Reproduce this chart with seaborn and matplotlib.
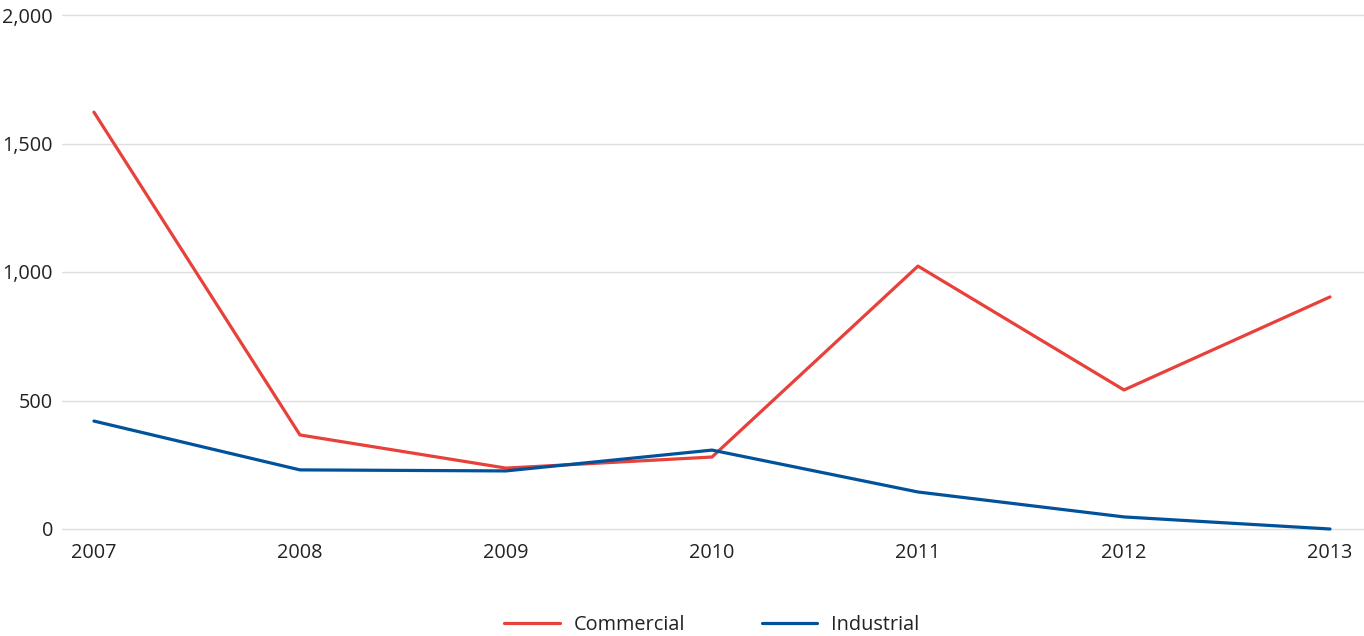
import matplotlib
matplotlib.use("Agg")
import matplotlib.pyplot as plt
import seaborn as sns
import pandas as pd
from matplotlib.ticker import FuncFormatter
from matplotlib.lines import Line2D

years = ["2007", "2008", "2009", "2010", "2011", "2012", "2013"]
commercial = [1622, 366, 237, 280, 1023, 541, 903]
industrial = [420, 230, 226, 307, 144, 47, 0]
series_names = ["Commercial", "Industrial"]
colors = ["#E8403A", "#00529B"]

df = pd.DataFrame({
    "year": years * 2,
    "value": commercial + industrial,
    "series": [series_names[0]] * len(years) + [series_names[1]] * len(years),
})
df["x"] = list(range(len(years))) * 2

sns.set_theme(style="white")
plt.rcParams["font.family"] = ["Open Sans", "DejaVu Sans"]

fig = plt.figure(figsize=(13.64, 6.36), dpi=100)
ax = fig.add_axes([62 / 1364, 1 - 529 / 636, 1 - 62 / 1364, (529 - 15) / 636])

sns.lineplot(data=df, x="x", y="value", hue="series", palette=colors,
             linewidth=2.3, ax=ax, legend=False)
for ln in ax.get_lines():
    ln.set_clip_on(False)

ax.set_xlim(-0.155, 6.165)
ax.set_ylim(0, 2000)
ax.set_yticks([0, 500, 1000, 1500, 2000])
ax.yaxis.set_major_formatter(FuncFormatter(lambda v, p: f"{int(v):,}"))
ax.set_xticks(range(len(years)))
ax.set_xticklabels(years)
ax.grid(axis="y", color="#DDDDDD", linewidth=1)
for gl in ax.get_ygridlines():
    gl.set_clip_on(False)
ax.set_axisbelow(True)
for s in ax.spines.values():
    s.set_visible(False)
ax.set_xlabel("")
ax.set_ylabel("")
ax.tick_params(axis="both", length=0, labelsize=14.3, colors="#222222")
ax.tick_params(axis="y", pad=6.5)
ax.tick_params(axis="x", pad=10)

handles = [Line2D([0], [0], color=c, linewidth=2.3) for c in colors]
fig.legend(handles, series_names, loc="center", bbox_to_anchor=(712 / 1364, 1 - 625 / 636),
           ncol=2, frameon=False, fontsize=14.3, handlelength=2.8, columnspacing=3.85,
           handletextpad=0.7, labelcolor="#222222")

fig.savefig("out.png", dpi=100)
